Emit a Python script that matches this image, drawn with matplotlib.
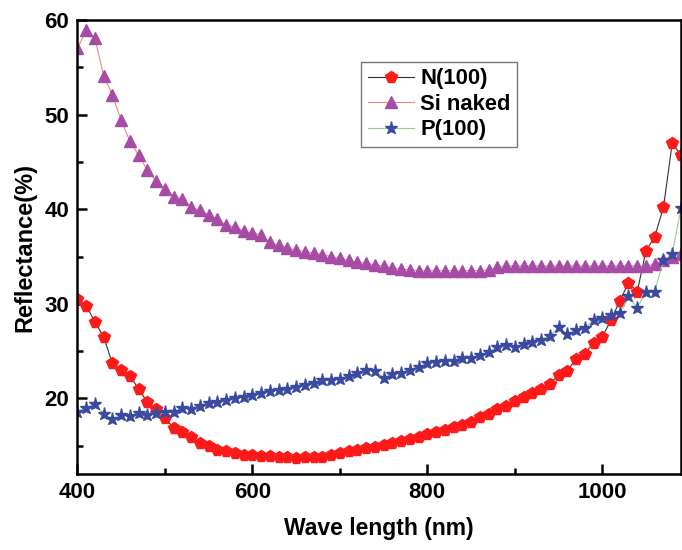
import numpy as np
import matplotlib
matplotlib.use("Agg")
import matplotlib.pyplot as plt
from matplotlib.ticker import MultipleLocator

plt.rcParams['font.family'] = ['Liberation Sans', 'DejaVu Sans']
plt.rcParams['font.weight'] = 'bold'

# wavelength grid, 10 nm steps
wavelength = np.arange(400, 1091, 10)

n100 = [30.5, 29.8, 28.1, 26.5, 23.7, 23.0, 22.4, 21.0, 19.6, 18.9,
        17.9, 16.9, 16.5, 15.9, 15.3, 15.0, 14.6, 14.4, 14.2, 14.0,
        14.0, 13.9, 13.9, 13.8, 13.8, 13.7, 13.8, 13.8, 13.8, 14.0,
        14.2, 14.4, 14.6, 14.8, 14.9, 15.1, 15.3, 15.5, 15.7, 15.9,
        16.2, 16.4, 16.7, 17.0, 17.2, 17.5, 18.0, 18.4, 18.9, 19.2,
        19.7, 20.1, 20.6, 21.0, 21.5, 22.5, 22.9, 24.2, 24.7, 25.9,
        26.5, 28.3, 30.3, 32.2, 31.3, 35.6, 37.1, 40.2, 47.0, 45.7]

si_naked = [57.0, 58.9, 58.1, 54.1, 52.1, 49.4, 47.2, 45.7, 44.1, 43.0,
            42.1, 41.3, 41.1, 40.2, 39.9, 39.4, 39.0, 38.3, 38.1, 37.7,
            37.5, 37.3, 36.5, 36.2, 35.9, 35.7, 35.5, 35.4, 35.2, 35.0,
            34.8, 34.6, 34.4, 34.3, 34.1, 34.0, 33.8, 33.7, 33.6, 33.5,
            33.5, 33.5, 33.5, 33.5, 33.5, 33.5, 33.5, 33.6, 33.9, 34.0,
            34.0, 34.0, 34.0, 34.0, 34.0, 34.0, 34.0, 34.0, 34.0, 34.0,
            34.0, 34.0, 34.0, 34.0, 34.0, 34.0, 34.2, 34.6, 35.0, 35.3]

p100 = [18.6, 19.0, 19.4, 18.4, 17.8, 18.2, 18.1, 18.5, 18.2, 18.5,
        18.6, 18.6, 19.0, 18.9, 19.2, 19.5, 19.6, 19.8, 20.0, 20.2,
        20.4, 20.6, 20.8, 20.9, 21.0, 21.2, 21.4, 21.6, 21.9, 22.0,
        22.1, 22.4, 22.7, 23.0, 22.9, 22.2, 22.6, 22.7, 23.0, 23.3,
        23.7, 23.8, 24.0, 24.0, 24.3, 24.3, 24.6, 24.9, 25.4, 25.7,
        25.4, 25.8, 26.0, 26.2, 26.6, 27.5, 26.8, 27.2, 27.4, 28.3,
        28.5, 28.8, 29.0, 30.8, 29.6, 31.3, 31.3, 34.6, 35.3, 40.1]

fig = plt.figure(figsize=(6.82, 5.5), dpi=100)
ax = fig.add_axes([0.1135, 0.138, 0.885, 0.8255])

ax.plot(wavelength, n100, color='#333333', lw=0.8, marker='p', ms=8.5,
        mfc='#ff1a1a', mec='#ff1a1a', label='N(100)')
ax.plot(wavelength, si_naked, color='#f08a6a', lw=0.8, marker='^', ms=8,
        mfc='#a64ca6', mec='#a64ca6', label='Si naked')
ax.plot(wavelength, p100, color='#8fd08f', lw=0.8, marker='*', ms=9.5,
        mfc='#3a4aa0', mec='#3a4aa0', label='P(100)')

ax.set_xlim(400, 1090)
ax.set_ylim(12, 60)
ax.xaxis.set_major_locator(MultipleLocator(200))
ax.xaxis.set_minor_locator(MultipleLocator(100))
ax.yaxis.set_major_locator(MultipleLocator(10))
ax.yaxis.set_minor_locator(MultipleLocator(5))
ax.tick_params(which='both', direction='in', width=1.8, labelsize=16)
ax.tick_params(which='major', length=7, pad=6)
ax.tick_params(which='minor', length=4)
ax.tick_params(axis='x', which='both', top=False)
for s in ax.spines.values():
    s.set_linewidth(1.8)

ax.set_xlabel('Wave length (nm)', fontsize=16.5, fontweight='bold', labelpad=10)
ax.set_ylabel('Reflectance(%)', fontsize=17, fontweight='bold', labelpad=6)

leg = ax.legend(loc='upper left', bbox_to_anchor=(0.470, 0.908), fontsize=15.8,
                frameon=True, fancybox=False, edgecolor='#555555',
                handlelength=2.1, handletextpad=0.3, labelspacing=0.2,
                borderpad=0.3, borderaxespad=0)
leg.get_frame().set_linewidth(1.0)

fig.savefig('out.png', dpi=100)
